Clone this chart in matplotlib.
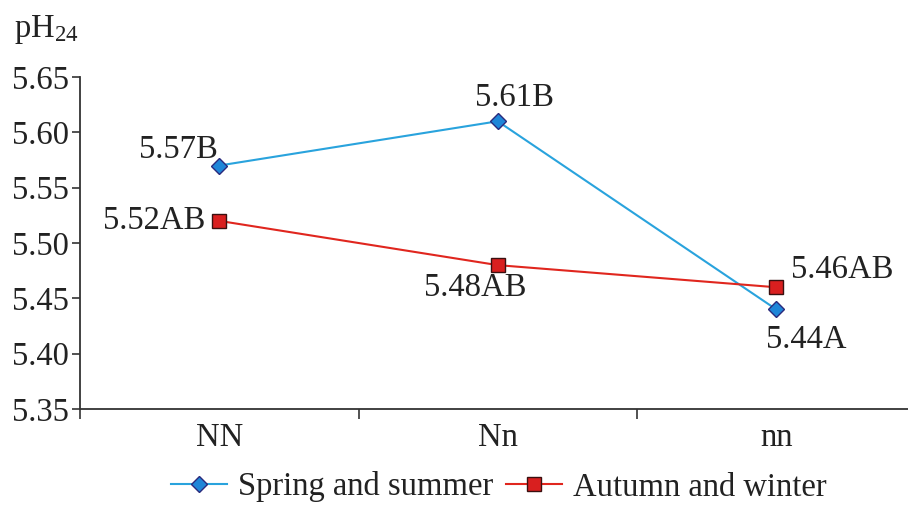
import matplotlib
matplotlib.use("Agg")
import matplotlib.pyplot as plt
from matplotlib.ticker import FixedLocator, NullFormatter

plt.rcParams['font.family'] = ['Liberation Serif', 'DejaVu Serif']
plt.rcParams['mathtext.fontset'] = 'custom'
plt.rcParams['mathtext.rm'] = 'Liberation Serif'
plt.rcParams['mathtext.it'] = 'Liberation Serif:italic'

categories = ["NN", "Nn", "nn"]
spring_summer = [5.57, 5.61, 5.44]
autumn_winter = [5.52, 5.48, 5.46]
spring_labels = ["5.57B", "5.61B", "5.44A"]
autumn_labels = ["5.52AB", "5.48AB", "5.46AB"]
yticks = [5.35, 5.40, 5.45, 5.50, 5.55, 5.60, 5.65]

W, H = 908, 505
fig = plt.figure(figsize=(W/100, H/100), dpi=100)
ax = fig.add_axes([80/W, 1-409/H, 1-80/W, (409-77)/H])

xpos = [i + 0.5 for i in range(len(categories))]
ax.plot(xpos, spring_summer, color='#29a3dd', lw=1.5, marker='D', ms=8.5,
        mfc='#1f86d8', mec='#2a2a7c', mew=1.0, label='Spring and summer', zorder=3)
ax.plot(xpos, autumn_winter, color='#e0261e', lw=1.5, marker='s', ms=10.5,
        mfc='#d91f1f', mec='#3a1010', mew=1.0, label='Autumn and winter', zorder=3)

fs = 23.5
ax.set_ylim(5.35, 5.65)
ax.set_xlim(0, (908-80)/278.5)
ax.set_yticks(yticks)
ax.set_yticklabels([f"{v:.2f}" for v in yticks])
ax.xaxis.set_major_locator(FixedLocator(xpos))
ax.set_xticklabels(categories)
ax.xaxis.set_minor_locator(FixedLocator([0, 1, 2, 3]))
ax.xaxis.set_minor_formatter(NullFormatter())
ax.tick_params(axis='x', which='major', length=0, labelsize=fs, pad=10)
ax.tick_params(axis='x', which='minor', length=7, width=1.2, direction='out', color='#333333')
ax.tick_params(axis='y', length=6, width=1.2, direction='out', labelsize=fs, pad=2, color='#333333')
for s in ['top', 'right']:
    ax.spines[s].set_visible(False)
for s in ['left', 'bottom']:
    ax.spines[s].set_linewidth(1.3)
    ax.spines[s].set_color('#333333')

for lbl in ax.get_xticklabels() + ax.get_yticklabels():
    lbl.set_color('#222222')

# data labels
sp_off = [(-1, 1, 'right', 'bottom'), (17, 8, 'center', 'bottom'), (-10, -15, 'left', 'top')]
au_off = [(-14, 0, 'right', 'center'), (-22, -7, 'center', 'top'), (15, 2, 'left', 'bottom')]
for x, y, t, (dx, dy, ha, va) in zip(xpos, spring_summer, spring_labels, sp_off):
    ax.annotate(t, (x, y), xytext=(dx, dy), textcoords='offset pixels', ha=ha, va=va,
                fontsize=fs, color='#222222')
for x, y, t, (dx, dy, ha, va) in zip(xpos, autumn_winter, autumn_labels, au_off):
    ax.annotate(t, (x, y), xytext=(dx, dy), textcoords='offset pixels', ha=ha, va=va,
                fontsize=fs, color='#222222')

fig.text(14/W, 1-30/H, r"pH$_{24}$", fontsize=fs, color='#222222', ha='left', va='center')

fig.legend(loc='center', bbox_to_anchor=(499/W, 1-487/H), ncol=2, frameon=False,
           fontsize=fs, handlelength=1.7, columnspacing=0.4, handletextpad=0.35)
for t in fig.legends[0].get_texts():
    t.set_color('#222222')

fig.savefig('out.png', dpi=100)
